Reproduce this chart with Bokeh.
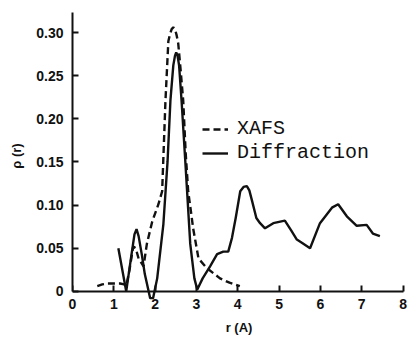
from bokeh.plotting import figure
from bokeh.models import Legend, LegendItem, FixedTicker, NumeralTickFormatter, LinearAxis
from bokeh.embed import file_html
from bokeh.resources import INLINE

# XAFS (dashed)
xafs_r = [0.60, 0.72, 0.85, 1.00, 1.15, 1.25, 1.30, 1.38, 1.47, 1.53, 1.60, 1.72, 1.80, 1.93,
          2.08, 2.17, 2.25, 2.32, 2.36, 2.40, 2.44, 2.48, 2.52, 2.56, 2.62, 2.68, 2.74, 2.80,
          2.86, 2.92, 3.05, 3.25, 3.57, 3.80, 4.05]
xafs_g = [0.006, 0.008, 0.009, 0.009, 0.009, 0.008, 0.006, 0.025, 0.052, 0.050, 0.038, 0.029,
          0.055, 0.081, 0.101, 0.116, 0.221, 0.290, 0.298, 0.304, 0.306, 0.304, 0.297, 0.287,
          0.255, 0.221, 0.160, 0.116, 0.095, 0.073, 0.038, 0.027, 0.015, 0.010, 0.006]

# Diffraction (solid)
diff_r = [1.11, 1.30, 1.42, 1.50, 1.55, 1.60, 1.68, 1.75, 1.88, 1.95, 2.05, 2.20, 2.30, 2.37,
          2.44, 2.48, 2.51, 2.54, 2.58, 2.64, 2.73, 2.85, 2.95, 3.02, 3.15, 3.33, 3.50, 3.65,
          3.77, 3.86, 3.95, 4.06, 4.14, 4.22, 4.28, 4.34, 4.45, 4.54, 4.66, 4.86, 5.14, 5.30,
          5.43, 5.56, 5.75, 5.99, 6.28, 6.43, 6.64, 6.88, 7.12, 7.27, 7.44]
diff_g = [0.050, 0.000, 0.040, 0.066, 0.072, 0.064, 0.042, 0.020, -0.008, -0.008, 0.015, 0.078,
          0.150, 0.221, 0.262, 0.273, 0.277, 0.274, 0.262, 0.221, 0.151, 0.055, 0.015, 0.002,
          0.015, 0.029, 0.043, 0.046, 0.046, 0.062, 0.085, 0.116, 0.121, 0.122, 0.117, 0.106,
          0.085, 0.079, 0.073, 0.079, 0.082, 0.070, 0.060, 0.056, 0.050, 0.079, 0.097, 0.101,
          0.087, 0.076, 0.077, 0.067, 0.064]

x_ticks = [0, 1, 2, 3, 4, 5, 6, 7, 8]
y_ticks = [0, 0.05, 0.10, 0.15, 0.20, 0.25, 0.30]

p = figure(width=408, height=337, output_backend="svg", toolbar_location=None,
           x_range=(0, 8.06), y_range=(-0.0095, 0.3233),
           min_border_left=72, min_border_right=3, min_border_top=12, min_border_bottom=37)
p.outline_line_color = None
p.grid.visible = False
p.background_fill_color = "white"

ink = "#111111"
l_x = p.line(xafs_r, xafs_g, line_color=ink, line_width=2.4, line_dash="7 4")
l_d = p.line(diff_r, diff_g, line_color=ink, line_width=2.4)

xl = LinearAxis()
p.add_layout(xl, "below")

for ax in (p.xaxis[0], p.yaxis[0], xl):
    ax.axis_line_color = ink
    ax.axis_line_width = 2
    ax.major_tick_line_color = ink
    ax.major_tick_line_width = 2
    ax.major_tick_in = 6
    ax.major_tick_out = 0
    ax.minor_tick_line_color = None
    ax.major_label_text_font = "Liberation Sans"
    ax.major_label_text_font_style = "bold"
    ax.major_label_text_font_size = "14px"
    ax.major_label_text_color = ink
    ax.axis_label_text_font = "Liberation Sans"
    ax.axis_label_text_font_style = "bold"
    ax.axis_label_text_font_size = "13px"
    ax.axis_label_text_color = ink

# axis line and ticks at r-axis y = 0
xa = p.xaxis[0]
xa.fixed_location = 0
xa.bounds = (0, 8)
xa.ticker = FixedTicker(ticks=x_ticks)
xa.major_label_text_alpha = 0

# labels below the frame
xl.ticker = FixedTicker(ticks=x_ticks)
xl.axis_line_color = None
xl.major_tick_line_color = None
xl.major_label_standoff = -1
xl.axis_label = "r (A)"
xl.axis_label_standoff = 8

ya = p.yaxis[0]
ya.bounds = (0, 0.3233)
ya.ticker = FixedTicker(ticks=y_ticks)
ya.formatter = NumeralTickFormatter(format="0.00")
ya.major_label_overrides = {0: "0"}
ya.major_label_standoff = 9
ya.axis_label = "ρ (r)"
ya.axis_label_standoff = 9

legend = Legend(items=[LegendItem(label="XAFS", renderers=[l_x]),
                       LegendItem(label="Diffraction", renderers=[l_d])],
                location=(130, 135), padding=0, margin=0, spacing=1,
                border_line_color=None, background_fill_alpha=0,
                glyph_width=26, glyph_height=20, label_height=20, label_standoff=9,
                label_text_font="Liberation Mono", label_text_font_size="20px",
                label_text_color=ink)
p.add_layout(legend, "center")

open("out.html", "w").write(file_html(p, INLINE))
